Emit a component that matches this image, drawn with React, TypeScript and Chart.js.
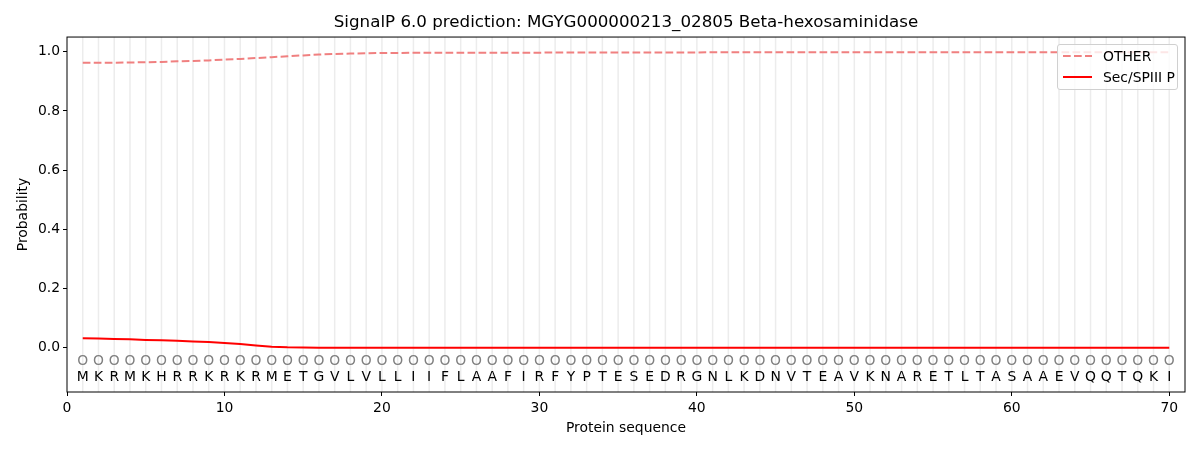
import { useEffect, useRef } from 'react'
import { Chart, registerables } from 'chart.js'

Chart.register(...registerables)

const sequence = 'MKRMKHRRKRKRMETGVLVLLIIFLAAFIRFYPTESEDRGNLKDNVTEAVKNARETLTASAAEVQQTQKI'.split('')
const positions = sequence.map((_, i) => i + 1)
const predicted = sequence.map(() => 'O')

const otherProb = [
  0.963, 0.963, 0.963, 0.964, 0.965, 0.966, 0.968, 0.969, 0.971, 0.974,
  0.976, 0.979, 0.982, 0.985, 0.988, 0.991, 0.993, 0.994, 0.995, 0.996,
  0.996, 0.997, 0.997, 0.997, 0.997, 0.997, 0.997, 0.997, 0.997, 0.997,
  0.998, 0.998, 0.998, 0.998, 0.998, 0.998, 0.998, 0.998, 0.998, 0.998,
  0.999, 0.999, 0.999, 0.999, 0.999, 0.999, 0.999, 0.999, 0.999, 0.999,
  0.999, 0.999, 0.999, 0.999, 0.999, 0.999, 0.999, 0.999, 0.999, 0.999,
  0.999, 0.999, 0.999, 0.999, 0.999, 0.999, 0.999, 0.999, 0.999, 0.999,
]
const secProb = [
  0.032, 0.031, 0.029, 0.028, 0.026, 0.025, 0.023, 0.021, 0.019, 0.016,
  0.012, 0.007, 0.003, 0.001, 0.0005, 0, 0, 0, 0, 0,
  0, 0, 0, 0, 0, 0, 0, 0, 0, 0,
  0, 0, 0, 0, 0, 0, 0, 0, 0, 0,
  0, 0, 0, 0, 0, 0, 0, 0, 0, 0,
  0, 0, 0, 0, 0, 0, 0, 0, 0, 0,
  0, 0, 0, 0, 0, 0, 0, 0, 0, 0,
]
const xTicks = [0, 10, 20, 30, 40, 50, 60, 70]
const yTicks = [0, 0.2, 0.4, 0.6, 0.8, 1.0]

const FONT = '"DejaVu Sans", sans-serif'
const DASH = [7.7, 3.3]

// gridlines at each residue, the O/residue letters and the axes frame
const sequencePlugin = {
  id: 'sequence',
  beforeDatasetsDraw(chart: any) {
    const { ctx, chartArea, scales } = chart
    ctx.save()
    ctx.strokeStyle = '#ececec'
    ctx.lineWidth = 1.5
    positions.forEach((p) => {
      const x = scales.x.getPixelForValue(p)
      ctx.beginPath()
      ctx.moveTo(x, chartArea.top)
      ctx.lineTo(x, chartArea.bottom)
      ctx.stroke()
    })
    ctx.textAlign = 'center'
    ctx.textBaseline = 'middle'
    ctx.font = '13.9px ' + FONT
    positions.forEach((p, i) => {
      const x = scales.x.getPixelForValue(p)
      ctx.fillStyle = '#808080'
      ctx.fillText(predicted[i], x, scales.y.getPixelForValue(-0.045))
      ctx.fillStyle = '#000'
      ctx.fillText(sequence[i], x, scales.y.getPixelForValue(-0.1))
    })
    ctx.restore()
  },
  afterDraw(chart: any) {
    const { ctx, chartArea } = chart
    ctx.save()
    ctx.strokeStyle = '#000'
    ctx.lineWidth = 1
    ctx.strokeRect(chartArea.left, chartArea.top, chartArea.right - chartArea.left, chartArea.bottom - chartArea.top)
    ctx.restore()
  },
}

function SignalPChart() {
  const chartRef = useRef<HTMLCanvasElement>(null)
  const chartInstance = useRef<Chart | null>(null)

  useEffect(() => {
    if (!chartRef.current) return
    if (chartInstance.current) chartInstance.current.destroy()

    const ctx = chartRef.current.getContext('2d')
    if (!ctx) return
    chartInstance.current = new Chart(ctx, {
      type: 'line',
      data: {
        datasets: [
          {
            label: 'OTHER',
            data: positions.map((p, i) => ({ x: p, y: otherProb[i] })),
            borderColor: '#f08080',
            borderWidth: 2,
            borderDash: DASH,
            pointRadius: 0,
            tension: 0,
          },
          {
            label: 'Sec/SPIII P',
            data: positions.map((p, i) => ({ x: p, y: secProb[i] })),
            borderColor: '#ff0000',
            borderWidth: 2,
            pointRadius: 0,
            tension: 0,
          },
        ],
      },
      options: {
        responsive: false,
        animation: false,
        events: [],
        layout: { padding: { left: 0, right: 15, top: 0, bottom: 0 } },
        plugins: {
          legend: { display: false },
          tooltip: { enabled: false },
          title: {
            display: true,
            fullSize: false,
            text: 'SignalP 6.0 prediction: MGYG000000213_02805 Beta-hexosaminidase',
            color: '#000',
            font: { family: FONT, size: 16.7, weight: 'normal', lineHeight: 1.2 },
            padding: { top: 13, bottom: 4 },
          },
        },
        scales: {
          x: {
            type: 'linear',
            min: 0,
            max: 71,
            afterBuildTicks: (scale: any) => {
              scale.ticks = xTicks.map((v) => ({ value: v }))
            },
            afterFit: (scale: any) => {
              scale.height = 58
            },
            ticks: {
              color: '#000',
              font: { family: FONT, size: 13.9 },
              padding: 4,
              maxRotation: 0,
              autoSkip: false,
            },
            grid: { drawOnChartArea: false, drawTicks: true, tickLength: 4, color: '#000' },
            border: { display: false },
            title: {
              display: true,
              text: 'Protein sequence',
              color: '#000',
              font: { family: FONT, size: 13.9 },
              padding: { top: 0, bottom: 13 },
            },
          },
          y: {
            type: 'linear',
            min: -0.15,
            max: 1.05,
            afterBuildTicks: (scale: any) => {
              scale.ticks = yTicks.map((v) => ({ value: v }))
            },
            afterFit: (scale: any) => {
              scale.width = 67
            },
            ticks: {
              color: '#000',
              font: { family: FONT, size: 13.9 },
              padding: 3,
              callback: (v: any) => Number(v).toFixed(1),
            },
            grid: { drawOnChartArea: false, drawTicks: true, tickLength: 4, color: '#000' },
            border: { display: false },
            title: {
              display: true,
              text: 'Probability',
              color: '#000',
              font: { family: FONT, size: 13.9 },
              padding: { top: 15, bottom: 0 },
            },
          },
        },
      },
      plugins: [sequencePlugin],
    } as any)

    return () => {
      if (chartInstance.current) {
        chartInstance.current.destroy()
        chartInstance.current = null
      }
    }
  }, [])

  return <canvas ref={chartRef} width={1200} height={450} />
}

const legendItems = [
  { label: 'OTHER', color: '#f08080', dashed: true },
  { label: 'Sec/SPIII P', color: '#ff0000', dashed: false },
]

export default function App() {
  useEffect(() => {
    document.body.style.margin = '0'
  }, [])

  return (
    <div style={{ position: 'relative', width: 1200, height: 450, background: '#fff', fontFamily: FONT }}>
      <SignalPChart />
      <div
        style={{
          position: 'absolute',
          left: 1057,
          top: 44,
          width: 119,
          height: 44,
          border: '1px solid #d0d0d0',
          borderRadius: 3,
          background: 'rgba(255,255,255,0.8)',
          fontSize: 13.9,
          color: '#000',
          boxSizing: 'content-box',
        }}
      >
        {legendItems.map((item, i) => (
          <div
            key={item.label}
            style={{ position: 'absolute', left: 5, top: 2 + i * 21, height: 18, display: 'flex', alignItems: 'center', whiteSpace: 'nowrap' }}
          >
            <svg width={29} height={4} style={{ marginRight: 11 }}>
              <line
                x1={0}
                y1={2}
                x2={29}
                y2={2}
                stroke={item.color}
                strokeWidth={2}
                strokeDasharray={item.dashed ? DASH.join(' ') : undefined}
              />
            </svg>
            <span>{item.label}</span>
          </div>
        ))}
      </div>
    </div>
  )
}
